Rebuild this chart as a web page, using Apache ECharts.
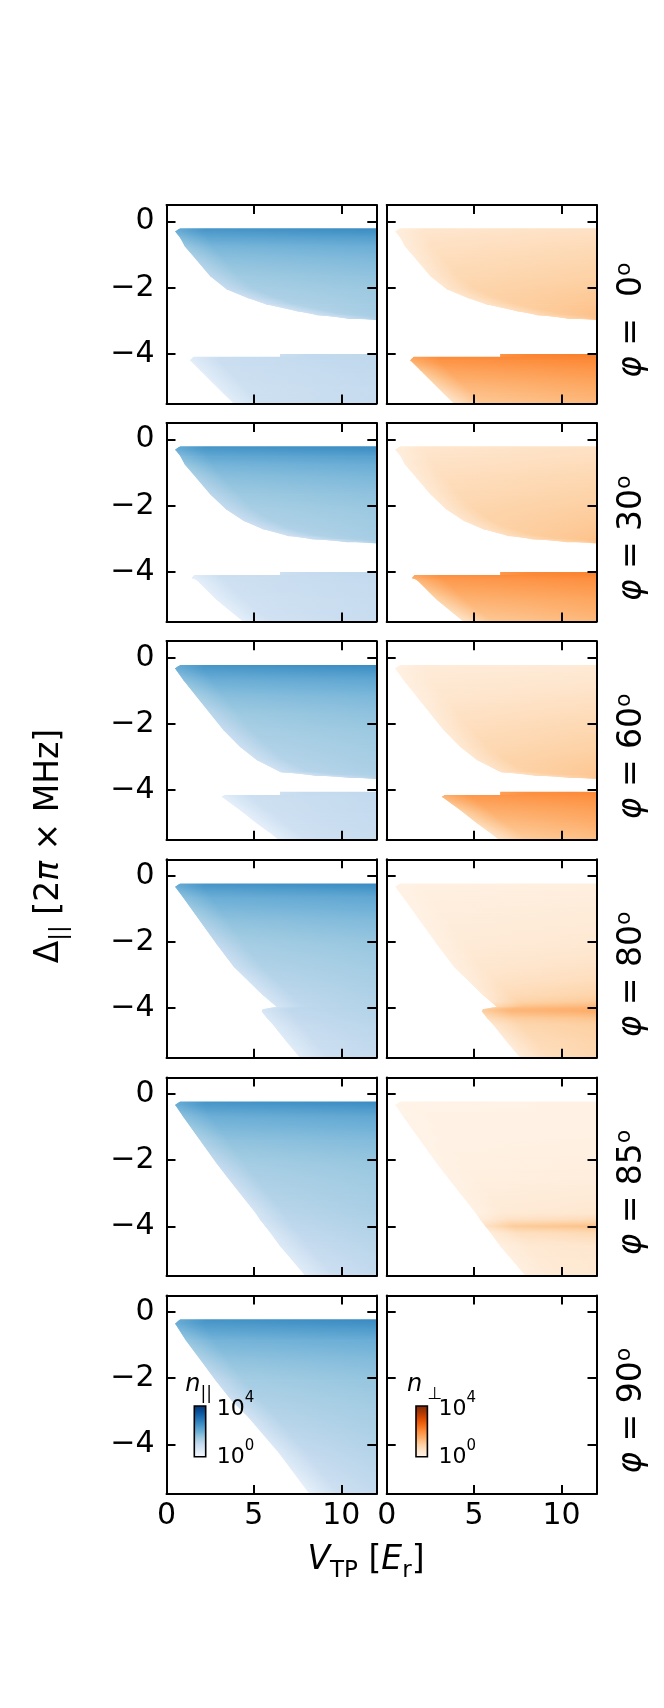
<!DOCTYPE html>
<html><head><meta charset="utf-8">
<script src="https://cdn.jsdelivr.net/npm/echarts@6/dist/echarts.min.js"></script>
<style>html,body{margin:0;padding:0;background:#fff}#c{width:664px;height:1708px}</style>
</head><body><div id="c"></div>
<script>
// ---------------- data ----------------
const angles = [0, 30, 60, 80, 85, 90];          // phi in degrees, one row each
const xTicks = [0, 5, 10];
const yTicks = [-4, -2, 0];
const xRange = [0, 12];
const yRange = [-5.5, 0.5];
const cbarTicks = ['4', '0'];                     // exponents of 10 on the colour bars

// band rows: [Delta_par, left edge V_TP, log10 n_par (edge), log10 n_par (right), log10 n_perp (edge), log10 n_perp (right)]
const phi0Upper = [
  [-0.20, 0.78, 2.10, 2.60, 0.25, 0.60],
  [-0.30, 0.50, 2.00, 2.50, 0.25, 0.62],
  [-0.50, 0.80, 1.80, 2.25, 0.28, 0.68],
  [-0.75, 1.05, 1.55, 2.00, 0.30, 0.75],
  [-1.15, 1.70, 1.32, 1.80, 0.35, 0.85],
  [-1.65, 2.50, 1.12, 1.63, 0.42, 0.95],
  [-2.05, 3.45, 1.00, 1.52, 0.50, 1.05],
  [-2.30, 4.60, 0.90, 1.48, 0.55, 1.10],
  [-2.50, 5.70, 0.85, 1.45, 0.60, 1.15],
  [-2.70, 7.40, 0.85, 1.43, 0.70, 1.20],
  [-2.82, 8.60, 0.90, 1.42, 0.80, 1.22],
  [-2.92, 10.30, 1.00, 1.40, 0.90, 1.25],
  [-2.96, 12.00, 1.20, 1.40, 1.00, 1.25]
];
const phi0Lower = [
  [-4.00, 6.50, 0.90, 1.10, 1.90, 2.20],
  [-4.09, 6.50, 0.90, 1.10, 1.90, 2.15],
  [-4.09, 1.55, 0.50, 1.10, 1.70, 2.15],
  [-4.19, 1.35, 0.45, 1.08, 1.55, 2.05],
  [-4.49, 1.92, 0.45, 1.05, 1.20, 1.85],
  [-4.89, 2.68, 0.45, 1.02, 0.90, 1.62],
  [-5.19, 3.25, 0.45, 1.00, 0.70, 1.48],
  [-5.50, 3.85, 0.45, 1.00, 0.55, 1.35]
];
const phi30Upper = [
  [-0.20, 0.78, 2.10, 2.60, 0.25, 0.60],
  [-0.30, 0.50, 2.00, 2.50, 0.25, 0.62],
  [-0.50, 0.80, 1.80, 2.25, 0.27, 0.66],
  [-0.75, 1.05, 1.57, 2.02, 0.30, 0.72],
  [-1.15, 1.70, 1.34, 1.82, 0.34, 0.82],
  [-1.65, 2.50, 1.15, 1.65, 0.40, 0.92],
  [-2.10, 3.40, 1.02, 1.53, 0.47, 1.02],
  [-2.45, 4.40, 0.92, 1.48, 0.53, 1.08],
  [-2.70, 5.50, 0.87, 1.45, 0.60, 1.13],
  [-2.90, 6.90, 0.86, 1.43, 0.70, 1.18],
  [-3.00, 8.30, 0.90, 1.42, 0.80, 1.21],
  [-3.08, 10.20, 1.00, 1.40, 0.90, 1.24],
  [-3.12, 12.00, 1.20, 1.40, 1.00, 1.25]
];
const phi30Lower = [
  [-4.00, 6.50, 0.85, 1.05, 1.85, 2.15],
  [-4.09, 6.50, 0.85, 1.05, 1.85, 2.10],
  [-4.09, 1.60, 0.45, 1.05, 1.65, 2.10],
  [-4.18, 1.45, 0.40, 1.03, 1.50, 2.00],
  [-4.24, 1.73, 0.40, 1.02, 1.40, 1.95],
  [-4.84, 2.87, 0.40, 0.98, 0.95, 1.62],
  [-5.25, 3.82, 0.40, 0.96, 0.70, 1.45],
  [-5.50, 4.40, 0.40, 0.95, 0.55, 1.35]
];
const phi60Upper = [
  [-0.22, 0.78, 2.10, 2.60, 0.15, 0.38],
  [-0.32, 0.49, 2.00, 2.50, 0.15, 0.40],
  [-0.67, 0.96, 1.70, 2.12, 0.18, 0.48],
  [-1.18, 1.73, 1.38, 1.82, 0.22, 0.60],
  [-1.68, 2.49, 1.15, 1.65, 0.28, 0.72],
  [-2.18, 3.25, 1.00, 1.53, 0.34, 0.84],
  [-2.69, 4.20, 0.88, 1.45, 0.42, 0.95],
  [-3.09, 5.16, 0.82, 1.39, 0.50, 1.05],
  [-3.45, 6.50, 0.82, 1.34, 0.62, 1.12],
  [-3.55, 8.40, 0.90, 1.32, 0.75, 1.15],
  [-3.62, 10.50, 1.00, 1.30, 0.90, 1.17],
  [-3.65, 12.00, 1.15, 1.30, 1.00, 1.18]
];
const phi60Lower = [
  [-4.05, 6.50, 0.85, 1.05, 1.75, 2.05],
  [-4.15, 6.50, 0.85, 1.05, 1.75, 2.00],
  [-4.15, 3.30, 0.45, 1.05, 1.50, 2.00],
  [-4.20, 3.16, 0.40, 1.04, 1.40, 1.95],
  [-4.60, 4.20, 0.40, 1.02, 1.05, 1.70],
  [-5.00, 5.16, 0.40, 1.00, 0.80, 1.50],
  [-5.36, 6.10, 0.40, 0.98, 0.60, 1.32],
  [-5.50, 6.40, 0.40, 0.98, 0.55, 1.28]
];
const phi80Band = [
  [-0.23, 0.78, 2.10, 2.60, 0.10, 0.20],
  [-0.33, 0.50, 2.00, 2.50, 0.10, 0.20],
  [-0.65, 0.95, 1.70, 2.12, 0.10, 0.25],
  [-1.35, 1.90, 1.32, 1.78, 0.12, 0.33],
  [-2.05, 2.85, 1.05, 1.56, 0.15, 0.42],
  [-2.75, 3.85, 0.85, 1.44, 0.20, 0.58],
  [-3.16, 4.65, 0.75, 1.37, 0.25, 0.70],
  [-3.60, 5.50, 0.70, 1.30, 0.35, 0.90],
  [-3.80, 5.95, 0.70, 1.27, 0.50, 1.08],
  [-3.96, 6.30, 0.70, 1.25, 0.85, 1.38],
  [-4.03, 5.50, 0.70, 1.25, 1.05, 1.52],
  [-4.10, 5.45, 0.65, 1.22, 1.00, 1.50],
  [-4.30, 5.75, 0.60, 1.20, 0.72, 1.18],
  [-4.50, 6.10, 0.55, 1.15, 0.50, 1.00],
  [-5.00, 6.85, 0.50, 1.08, 0.35, 0.90],
  [-5.50, 7.65, 0.45, 1.02, 0.30, 0.85]
];
const phi85Band = [
  [-0.23, 0.78, 2.10, 2.60, 0.05, 0.10],
  [-0.33, 0.50, 2.00, 2.50, 0.05, 0.10],
  [-0.69, 0.96, 1.70, 2.10, 0.05, 0.12],
  [-1.40, 1.92, 1.32, 1.77, 0.06, 0.15],
  [-2.10, 2.87, 1.05, 1.56, 0.08, 0.20],
  [-2.60, 3.60, 0.90, 1.48, 0.10, 0.25],
  [-3.60, 5.10, 0.70, 1.35, 0.15, 0.45],
  [-3.80, 5.35, 0.70, 1.30, 0.28, 0.75],
  [-4.00, 5.65, 0.65, 1.27, 0.60, 1.25],
  [-4.20, 5.95, 0.60, 1.24, 0.32, 0.78],
  [-4.60, 6.50, 0.55, 1.17, 0.20, 0.50],
  [-5.00, 7.15, 0.50, 1.10, 0.20, 0.45],
  [-5.50, 7.95, 0.45, 1.03, 0.20, 0.45]
];
const phi90Band = [
  [-0.22, 0.78, 2.10, 2.62, null, null],
  [-0.35, 0.50, 2.00, 2.50, null, null],
  [-0.85, 1.10, 1.60, 2.02, null, null],
  [-1.45, 1.95, 1.28, 1.76, null, null],
  [-2.06, 2.80, 1.00, 1.58, null, null],
  [-2.66, 3.70, 0.85, 1.47, null, null],
  [-3.16, 4.65, 0.75, 1.39, null, null],
  [-4.27, 6.45, 0.55, 1.22, null, null],
  [-5.37, 8.00, 0.35, 1.05, null, null],
  [-5.50, 8.20, 0.30, 1.02, null, null]
];
const bandsByRow = [
  [phi0Upper, phi0Lower],
  [phi30Upper, phi30Lower],
  [phi60Upper, phi60Lower],
  [phi80Band],
  [phi85Band],
  [phi90Band]
];

// ---------------- style ----------------
const FONT = 'DejaVu Sans';
const BLUES = ['#f7fbff','#deebf7','#c6dbef','#9ecae1','#6baed6','#4292c6','#2171b5','#08519c','#08306b'];
const ORANGES = ['#fff5eb','#fee6ce','#fdd0a2','#fdae6b','#fd8d3c','#f16913','#d94801','#a63603','#7f2704'];
const LOGMAX = 4;
const EDGE_UNITS = 1.6;   // width (in V_TP) of the pale rim along the left edge
const EDGE_MIX = 0.72;

function hex(h){ return [parseInt(h.slice(1,3),16), parseInt(h.slice(3,5),16), parseInt(h.slice(5,7),16)]; }
function cmap(anchors, v){
  const t = Math.max(0, Math.min(1, v / LOGMAX));
  const n = anchors.length - 1, f = t * n;
  const i = Math.min(n - 1, Math.floor(f)), u = f - i;
  const a = hex(anchors[i]), b = hex(anchors[i + 1]);
  return 'rgb(' + [0,1,2].map(k => Math.round(a[k] + (b[k] - a[k]) * u)).join(',') + ')';
}

// one cell per pair of consecutive band rows
function quadsFrom(band, colL, colR){
  const out = [];
  for (let i = 0; i < band.length - 1; i++){
    const a = band[i], b = band[i + 1];
    if (a[colL] == null || b[colL] == null) continue;
    if (Math.abs(a[0] - b[0]) < 1e-9) continue;
    out.push([a[0], a[1], b[0], b[1], a[colL], a[colR], b[colL], b[colR]]);
  }
  return out;
}

// each cell is painted as pixel-aligned rows so that neighbouring rows do not leave seams
function makeRender(anchors){
  return function(params, api){
    const y1 = api.value(0), x1 = api.value(1), y2 = api.value(2), x2 = api.value(3);
    const l1 = api.value(4), r1 = api.value(5), l2 = api.value(6), r2 = api.value(7);
    const p1 = api.coord([x1, y1]), p4 = api.coord([x2, y2]);
    const xr = api.coord([xRange[1], y1])[0] + 1;
    const edgePx = api.size([EDGE_UNITS, 0])[0];
    const top = p1[1], bot = p4[1], h = bot - top;
    const xAt = t => p1[0] + (p4[0] - p1[0]) * t;
    const children = [];
    let ya = top;
    while (ya < bot - 1e-6){
      const yb = Math.min(bot, Math.floor(ya) + 1);
      const ye = Math.min(bot + 0.6, yb + 1);
      const tA = (ya - top) / h, tB = (yb - top) / h, tE = (ye - top) / h, tm = (tA + tB) / 2;
      const xa = xAt(tA), xe = xAt(Math.min(tE, 1.05));
      const vl = l1 + (l2 - l1) * tm, vr = r1 + (r2 - r1) * tm;
      let xl = (xa + xe) / 2; if (xr - xl < 1) xl = xr - 1;
      const d = edgePx / (xr - xl);
      const stops = d < 0.9
        ? [{offset: 0, color: cmap(anchors, vl)},
           {offset: d, color: cmap(anchors, vl + (vr - vl) * EDGE_MIX)},
           {offset: 1, color: cmap(anchors, vr)}]
        : [{offset: 0, color: cmap(anchors, vl)}, {offset: 1, color: cmap(anchors, vr)}];
      const g = new echarts.graphic.LinearGradient(xl, 0, xr, 0, stops, true);
      children.push({ type: 'polygon', shape: { points: [[xa, ya], [xr, ya], [xr, ye], [xe, ye]] },
                      style: { fill: g } });
      ya = yb;
    }
    return { type: 'group', children };
  };
}

// layout
const GL = [166.5, 386.7], GW = 209.8, GH = 198.5, GT0 = 205, GP = 218.1;
const lineStyle = { color: '#000', width: 2 };
const minus = v => (v < 0 ? '\u2212' + Math.abs(v) : String(v));
const LF = 33;   // axis-title font size

const grids = [], xAxes = [], yAxes = [], series = [], graphics = [];
for (let r = 0; r < angles.length; r++){
  for (let c = 0; c < 2; c++){
    const gi = r * 2 + c;
    grids.push({ left: GL[c], top: GT0 + GP * r, width: GW, height: GH, show: false });
    ['bottom', 'top'].forEach(pos => xAxes.push({
      gridIndex: gi, type: 'value', min: xRange[0], max: xRange[1], position: pos, z: 10,
      axisLine: { show: true, onZero: false, lineStyle },
      axisTick: { show: true, inside: true, length: 9, lineStyle, customValues: xTicks },
      axisLabel: { show: pos === 'bottom' && r === angles.length - 1, customValues: xTicks,
                   margin: 7, color: '#000', fontSize: 30, fontFamily: FONT },
      splitLine: { show: false }
    }));
    ['left', 'right'].forEach(pos => yAxes.push({
      gridIndex: gi, type: 'value', min: yRange[0], max: yRange[1], position: pos, z: 10,
      axisLine: { show: true, onZero: false, lineStyle },
      axisTick: { show: true, inside: true, length: 9, lineStyle, customValues: yTicks },
      axisLabel: { show: pos === 'left' && c === 0, customValues: yTicks, formatter: minus,
                   margin: 12, color: '#000', fontSize: 30, fontFamily: FONT },
      splitLine: { show: false }
    }));
    const anchors = c === 0 ? BLUES : ORANGES;
    const colL = c === 0 ? 2 : 4, colR = c === 0 ? 3 : 5;
    bandsByRow[r].forEach(band => {
      const data = quadsFrom(band, colL, colR);
      if (!data.length) return;
      series.push({ type: 'custom', xAxisIndex: gi * 2, yAxisIndex: gi * 2, clip: true, silent: true,
                    encode: { x: [1, 3], y: [0, 2] }, renderItem: makeRender(anchors), data });
    });
  }
  // row label on the right
  const cy = GT0 + GP * r + GH / 2 + 16;
  const num = angles[r] < 10 ? ' =  ' + angles[r] : ' = ' + angles[r];
  graphics.push({ type: 'text', x: 632, y: cy, rotation: Math.PI / 2, silent: true, z: 100,
    style: { text: '{i|\u03c6}{n|' + num + '}{s|o}',
             rich: { i: { fontFamily: FONT, fontSize: LF, fontStyle: 'italic', lineHeight: LF + 4, fill: '#000', color: '#000' },
                     n: { fontFamily: FONT, fontSize: LF, lineHeight: LF + 4, fill: '#000', color: '#000' },
                     s: { fontFamily: FONT, fontSize: 22, lineHeight: LF + 4, verticalAlign: 'top', fill: '#000', color: '#000' } },
             align: 'center', verticalAlign: 'middle', textAlign: 'center', textVerticalAlign: 'middle' } });
}

// axis titles
const richBase = (fs, sub) => ({
  n: { fontFamily: FONT, fontSize: fs, lineHeight: fs + 12, fill: '#000', color: '#000' },
  i: { fontFamily: FONT, fontSize: fs, fontStyle: 'italic', lineHeight: fs + 12, fill: '#000', color: '#000' },
  s: { fontFamily: FONT, fontSize: sub, lineHeight: fs + 12, verticalAlign: 'bottom', fill: '#000', color: '#000' },
  p: { fontFamily: FONT, fontSize: sub, lineHeight: fs + 12, verticalAlign: 'top', fill: '#000', color: '#000' }
});
graphics.push({ type: 'text', x: 49, y: 846, rotation: Math.PI / 2, silent: true, z: 100,
  style: { text: '{n|\u0394}{s|||}{n| [2}{i|\u03c0}{n| \u00d7 MHz]}', rich: richBase(LF, 23),
           align: 'center', verticalAlign: 'middle', textAlign: 'center', textVerticalAlign: 'middle' } });
graphics.push({ type: 'text', x: 366, y: 1560, silent: true, z: 100,
  style: { text: '{i|V}{s|TP}{n| [}{i|E}{s|r}{n|]}', rich: richBase(LF, 23),
           align: 'center', verticalAlign: 'middle', textAlign: 'center', textVerticalAlign: 'middle' } });

// colour bars (inset legends in the phi = 90 row)
function cbar(x, anchors, labelText){
  const stops = anchors.map((col, k) => ({ offset: k / (anchors.length - 1), color: col }));
  graphics.push({ type: 'rect', x: x, y: 1406, shape: { width: 11.4, height: 50.7 }, silent: true, z: 100,
    style: { fill: new echarts.graphic.LinearGradient(0, 1, 0, 0, stops), stroke: '#000', lineWidth: 1.6 } });
  graphics.push({ type: 'text', x: x - 9, y: 1385, silent: true, z: 100,
    style: { text: labelText, rich: richBase(24, 17), align: 'left', verticalAlign: 'middle',
             textAlign: 'left', textVerticalAlign: 'middle' } });
  [1409, 1457].forEach((yy, k) => graphics.push({ type: 'text', x: x + 22.5, y: yy, silent: true, z: 100,
    style: { text: '{n|10}{p|' + cbarTicks[k] + '}', rich: {
               n: { fontFamily: FONT, fontSize: 22, lineHeight: 36, fill: '#000', color: '#000' },
               p: { fontFamily: FONT, fontSize: 15, lineHeight: 36, verticalAlign: 'top', fill: '#000', color: '#000' } },
             align: 'left', verticalAlign: 'middle', textAlign: 'left', textVerticalAlign: 'middle' } }));
}
cbar(194.3, BLUES, '{i|n}{s|||}');
cbar(416.0, ORANGES, '{i|n}{s| \u22a5}');

const chart = echarts.init(document.getElementById('c'), null, { renderer: 'canvas' });
chart.setOption({
  backgroundColor: '#fff', animation: false,
  grid: grids, xAxis: xAxes, yAxis: yAxes, series: series,
  graphic: { elements: graphics }
});
</script></body></html>
